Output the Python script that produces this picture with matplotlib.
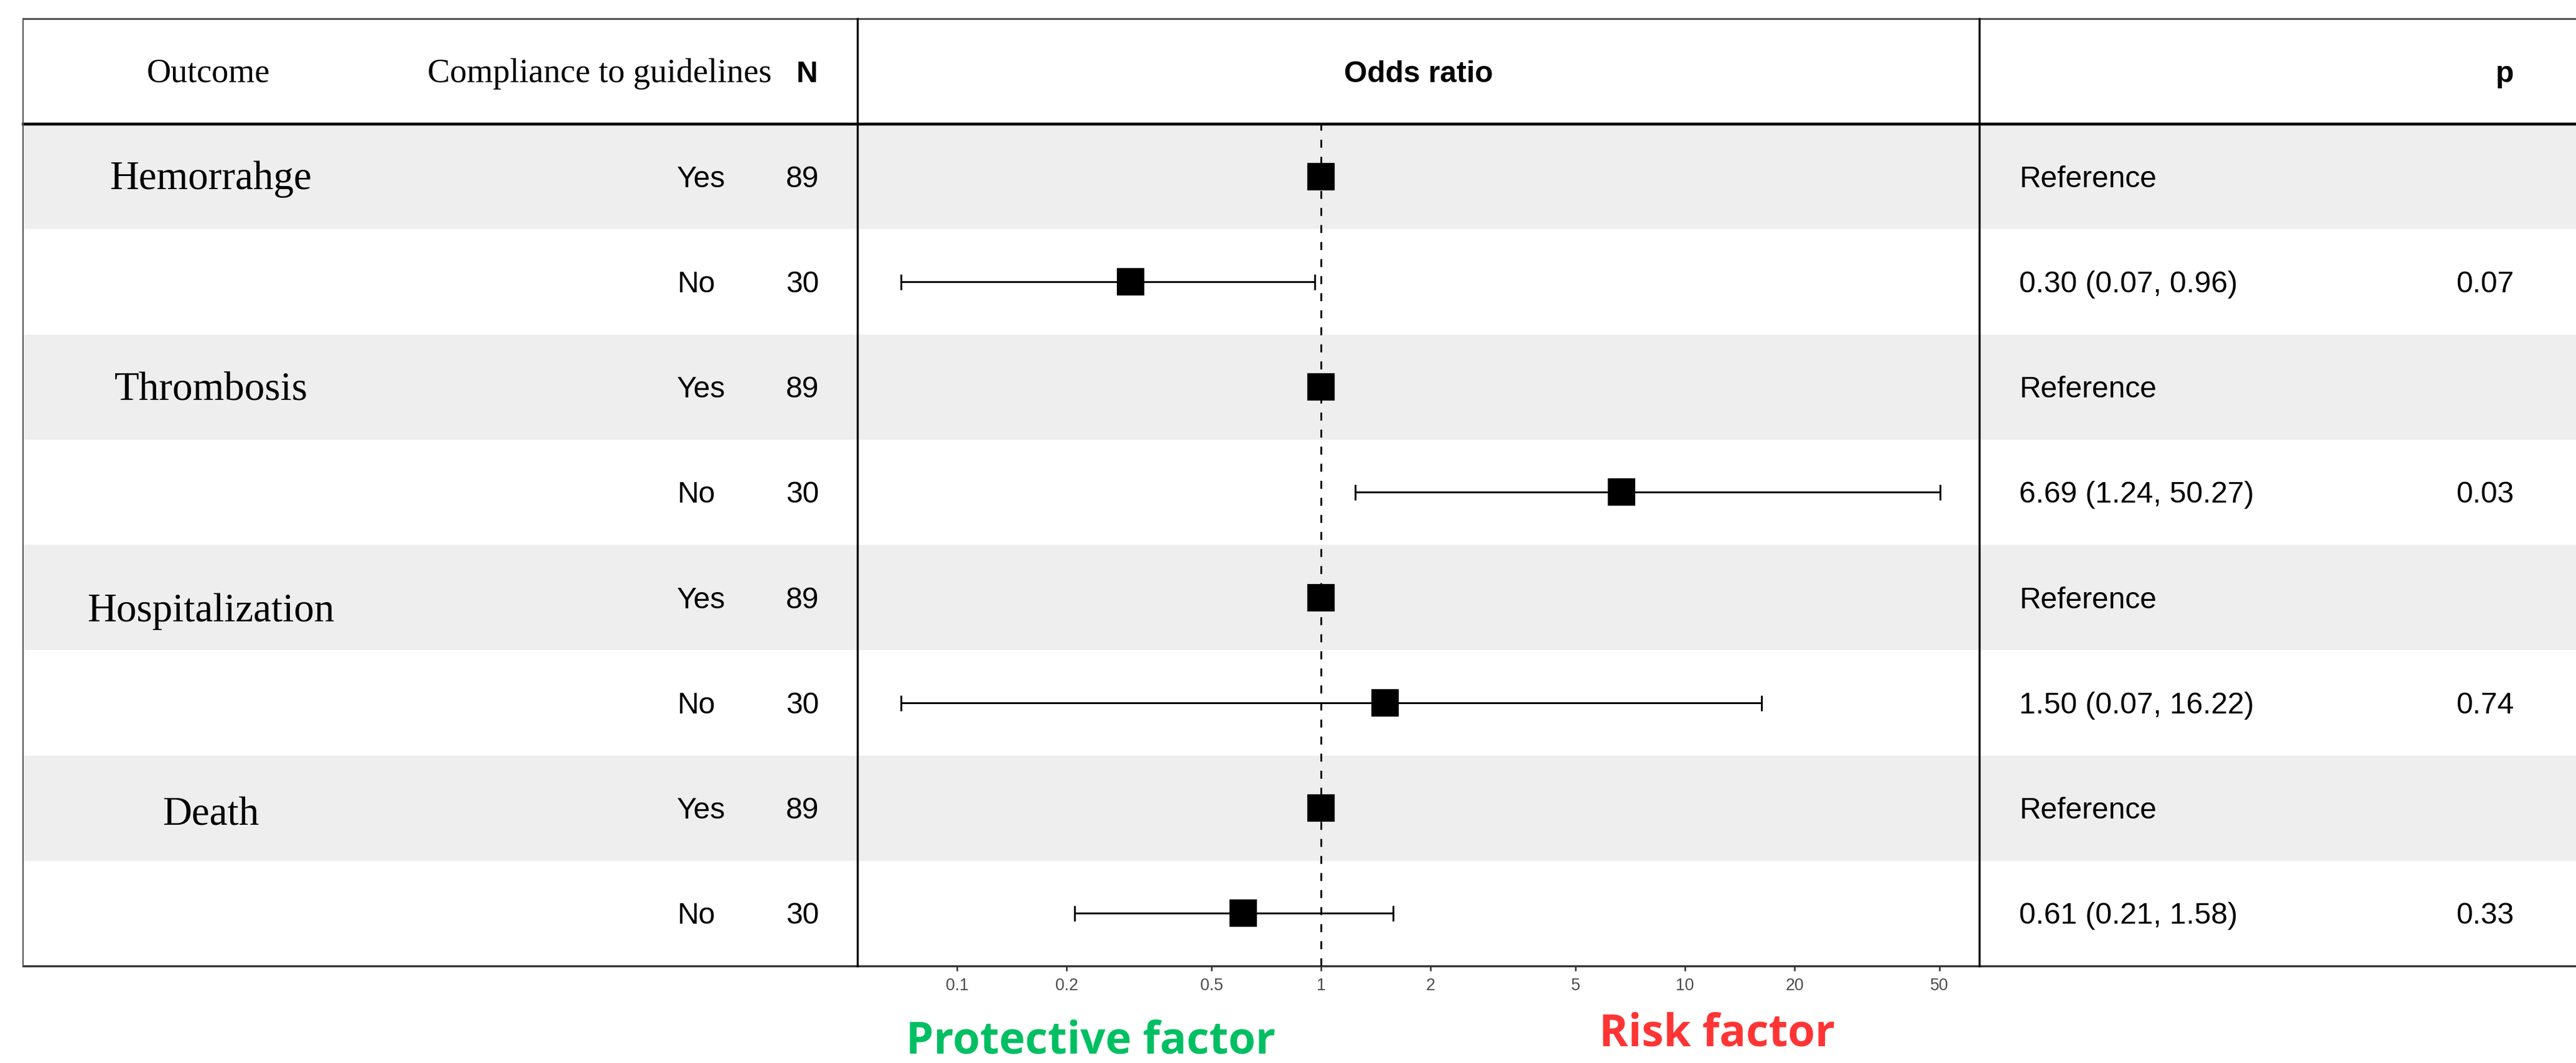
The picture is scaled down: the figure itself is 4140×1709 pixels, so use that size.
import numpy as np
import matplotlib.pyplot as plt
from matplotlib.ticker import NullLocator

# data
outcomes = ['Hemorrahge', 'Thrombosis', 'Hospitalization', 'Death']
compliance = ['Yes', 'No']
n_yes = [89, 89, 89, 89]
n_no = [30, 30, 30, 30]
or_no = [0.30, 6.69, 1.50, 0.61]
ci_low = [0.07, 1.24, 0.07, 0.21]
ci_high = [0.96, 50.27, 16.22, 1.58]
p_no = ['0.07', '0.03', '0.74', '0.33']
x_ticks = [0.1, 0.2, 0.5, 1, 2, 5, 10, 20, 50]

# one row per (outcome, compliance)
row_or, row_lo, row_hi, row_n, row_lab, row_txt, row_p = [], [], [], [], [], [], []
for i in range(len(outcomes)):
    row_or += [1.0, or_no[i]]
    row_lo += [np.nan, ci_low[i]]
    row_hi += [np.nan, ci_high[i]]
    row_n += [n_yes[i], n_no[i]]
    row_lab += compliance
    row_txt += ['Reference', f'{or_no[i]:.2f} ({ci_low[i]:.2f}, {ci_high[i]:.2f})']
    row_p += ['', p_no[i]]
row_or = np.array(row_or)
row_lo = np.array(row_lo)
row_hi = np.array(row_hi)
nrows = len(row_or)

SERIF = 'Liberation Serif'
SANS = 'Liberation Sans'
FS = 11.5  # body text size

W, H = 4140, 1709
fig = plt.figure(figsize=(W / 300, H / 300), dpi=300)

# layout in pixels
left, top, head_bot, bottom = 37, 30, 199, 1553
x_plot0, x_plot1 = 1378, 3181
row_h = (bottom - head_bot) / nrows

# background / table axes in pixel coords
bg = fig.add_axes([0, 0, 1, 1], zorder=0)
bg.set_xlim(0, W)
bg.set_ylim(H, 0)
bg.axis('off')

for i in range(0, nrows, 2):
    y0 = head_bot + i * row_h
    bg.fill_between([left, W], y0, y0 + row_h, color='#EEEEEE', lw=0)

bg.plot([left, W], [top, top], color='#333333', lw=0.6)
bg.plot([left, W], [head_bot, head_bot], color='black', lw=1.1)
bg.plot([left, W], [bottom, bottom], color='#333333', lw=0.8)
bg.plot([left, left], [top, bottom], color='#555555', lw=0.5)
for xv in (x_plot0, x_plot1):
    bg.plot([xv, xv], [top, bottom], color='black', lw=0.8)

# header
hb = 132
bg.text(335, hb, 'Outcome', family=SERIF, fontsize=13, ha='center', va='baseline')
bg.text(1240, hb, 'Compliance to guidelines', family=SERIF, fontsize=13, ha='right', va='baseline')
bg.text(1314, hb, 'N', family=SANS, fontsize=FS, weight='bold', ha='right', va='baseline')
bg.text((x_plot0 + x_plot1) / 2, hb, 'Odds ratio', family=SANS, fontsize=FS, weight='bold',
        ha='center', va='baseline')
bg.text(4040, hb, 'p', family=SANS, fontsize=FS, weight='bold', ha='right', va='baseline')

# table body
name_nudge = [0, 0, 18, 7]
for i in range(nrows):
    yc = head_bot + (i + 0.5) * row_h
    yb = yc + 17
    if i % 2 == 0:
        k = i // 2
        bg.text(339, yc + 20 + name_nudge[k], outcomes[k], family=SERIF, fontsize=15.6,
                ha='center', va='baseline')
    bg.text(1088, yb, row_lab[i], family=SANS, fontsize=FS, ha='left', va='baseline')
    bg.text(1316, yb, str(row_n[i]), family=SANS, fontsize=FS, ha='right', va='baseline')
    bg.text(3245, yb, row_txt[i], family=SANS, fontsize=FS, ha='left', va='baseline')
    if row_p[i]:
        bg.text(4040, yb, row_p[i], family=SANS, fontsize=FS, ha='right', va='baseline')

# forest plot axes
ax = fig.add_axes([x_plot0 / W, 1 - bottom / H, (x_plot1 - x_plot0) / W, (bottom - head_bot) / H],
                  zorder=2)
ax.patch.set_alpha(0)
ax.set_xscale('log')
ax.set_xlim(0.0532, 64.3)
ax.set_ylim(nrows - 0.5, -0.5)
for s in ax.spines.values():
    s.set_visible(False)

ys = np.arange(nrows)
ax.axvline(1, color='black', lw=0.7, dashes=(4.4, 5.0), zorder=1)
ok = ~np.isnan(row_lo)
ax.errorbar(row_or[ok], ys[ok], xerr=[row_or[ok] - row_lo[ok], row_hi[ok] - row_or[ok]],
            fmt='none', ecolor='black', elinewidth=0.7, capsize=3.0, capthick=0.7, zorder=2)
ax.plot(row_or, ys, 's', color='black', ms=9.4, zorder=3)

ax.set_xticks(x_ticks, labels=[f'{t:g}' for t in x_ticks])
ax.xaxis.set_minor_locator(NullLocator())
ax.set_yticks([])
ax.tick_params(axis='x', direction='out', length=2, width=0.6, color='#333333',
               labelsize=6.4, labelcolor='#4D4D4D', pad=2.5)
for lab in ax.get_xticklabels():
    lab.set_family(SANS)

# direction labels
fig.text(1753 / W, 1 - 1693 / H, 'Protective factor', family='Open Sans', weight='bold',
         fontsize=17, color='#00BF63', ha='center', va='baseline')
fig.text(2760 / W, 1 - 1682 / H, 'Risk factor', family='Open Sans', weight='bold',
         fontsize=17, color='#FF3434', ha='center', va='baseline')

fig.savefig('out.png', dpi=300)
